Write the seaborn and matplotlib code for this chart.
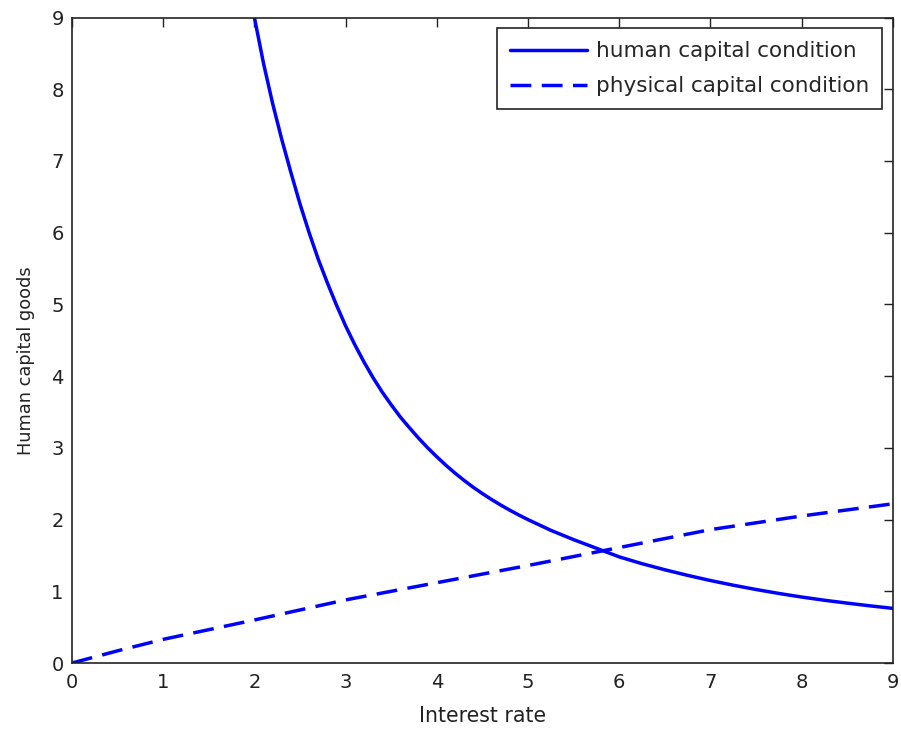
import matplotlib
matplotlib.use("Agg")
import matplotlib.pyplot as plt
import seaborn as sns
import pandas as pd

# Human capital condition: goods required at each interest rate
rate_human = [2.0, 2.1, 2.2, 2.3, 2.4, 2.5, 2.6, 2.7, 2.8, 2.9,
              3.0, 3.1, 3.2, 3.3, 3.4, 3.5, 3.6, 3.7, 3.8, 3.9,
              4.0, 4.1, 4.2, 4.3, 4.4, 4.5, 4.6, 4.7, 4.8, 4.9,
              5.0, 5.25, 5.5, 5.75, 6.0, 6.25, 6.5, 6.75, 7.0, 7.25,
              7.5, 7.75, 8.0, 8.25, 8.5, 8.75, 9.0]
human_goods = [9.0, 8.36, 7.80, 7.30, 6.84, 6.40, 6.00, 5.63, 5.30, 4.99,
               4.70, 4.44, 4.20, 3.98, 3.78, 3.60, 3.43, 3.28, 3.135, 3.00,
               2.875, 2.757, 2.647, 2.545, 2.45, 2.362, 2.28, 2.203, 2.131, 2.063,
               1.999, 1.85, 1.72, 1.60, 1.48, 1.385, 1.30, 1.222, 1.15, 1.085,
               1.025, 0.97, 0.92, 0.875, 0.835, 0.797, 0.762]

# Physical capital condition
rate_physical = [0.0, 0.5, 1.0, 2.0, 3.0, 4.0, 5.0, 6.0, 7.0, 8.0, 9.0]
physical_goods = [0.0, 0.17, 0.33, 0.60, 0.88, 1.12, 1.36, 1.61, 1.86, 2.05, 2.22]

series_labels = ["human capital condition", "physical capital condition"]
x_ticks = list(range(0, 10))
y_ticks = list(range(0, 10))

sns.set_style("white")
plt.rcParams["font.family"] = ["DejaVu Sans"]

human_df = pd.DataFrame({"rate": rate_human, "goods": human_goods})
physical_df = pd.DataFrame({"rate": rate_physical, "goods": physical_goods})

fig = plt.figure(figsize=(9.01, 7.31), dpi=100)
ax = fig.add_axes([0.0799, 0.093, 0.9111, 0.883])

sns.lineplot(data=human_df, x="rate", y="goods", ax=ax, color="#0000ff",
             linewidth=2.5, sort=False, label=series_labels[0])
sns.lineplot(data=physical_df, x="rate", y="goods", ax=ax, color="#0000ff",
             linewidth=2.5, sort=False, label=series_labels[1],
             linestyle=(0, (6.0, 3.0)))

ax.set_xlim(0, 9)
ax.set_ylim(0, 9)
ax.set_xticks(x_ticks)
ax.set_yticks(y_ticks)
ax.tick_params(direction="in", length=6.5, width=1.0, colors="#222222",
               labelsize=14, top=True, right=True, labelcolor="#222222")
ax.tick_params(axis="x", pad=7)
ax.tick_params(axis="y", pad=6)
for side in ax.spines.values():
    side.set_visible(True)
    side.set_color("#222222")
    side.set_linewidth(1.2)

ax.set_xlabel("Interest rate", fontsize=14.8, color="#222222", labelpad=10)
ax.set_ylabel("Human capital goods", fontsize=12.8, color="#222222")
ax.yaxis.set_label_coords(-0.045, 0.469)

leg = ax.legend(loc="upper right", fontsize=15.5, frameon=True,
                fancybox=False, framealpha=1, edgecolor="#222222",
                handlelength=3.6, handletextpad=0.4, labelspacing=0.7,
                borderaxespad=0.5, borderpad=0.6)
leg.get_frame().set_linewidth(1.2)

fig.savefig("out.png", dpi=100, facecolor="white")
